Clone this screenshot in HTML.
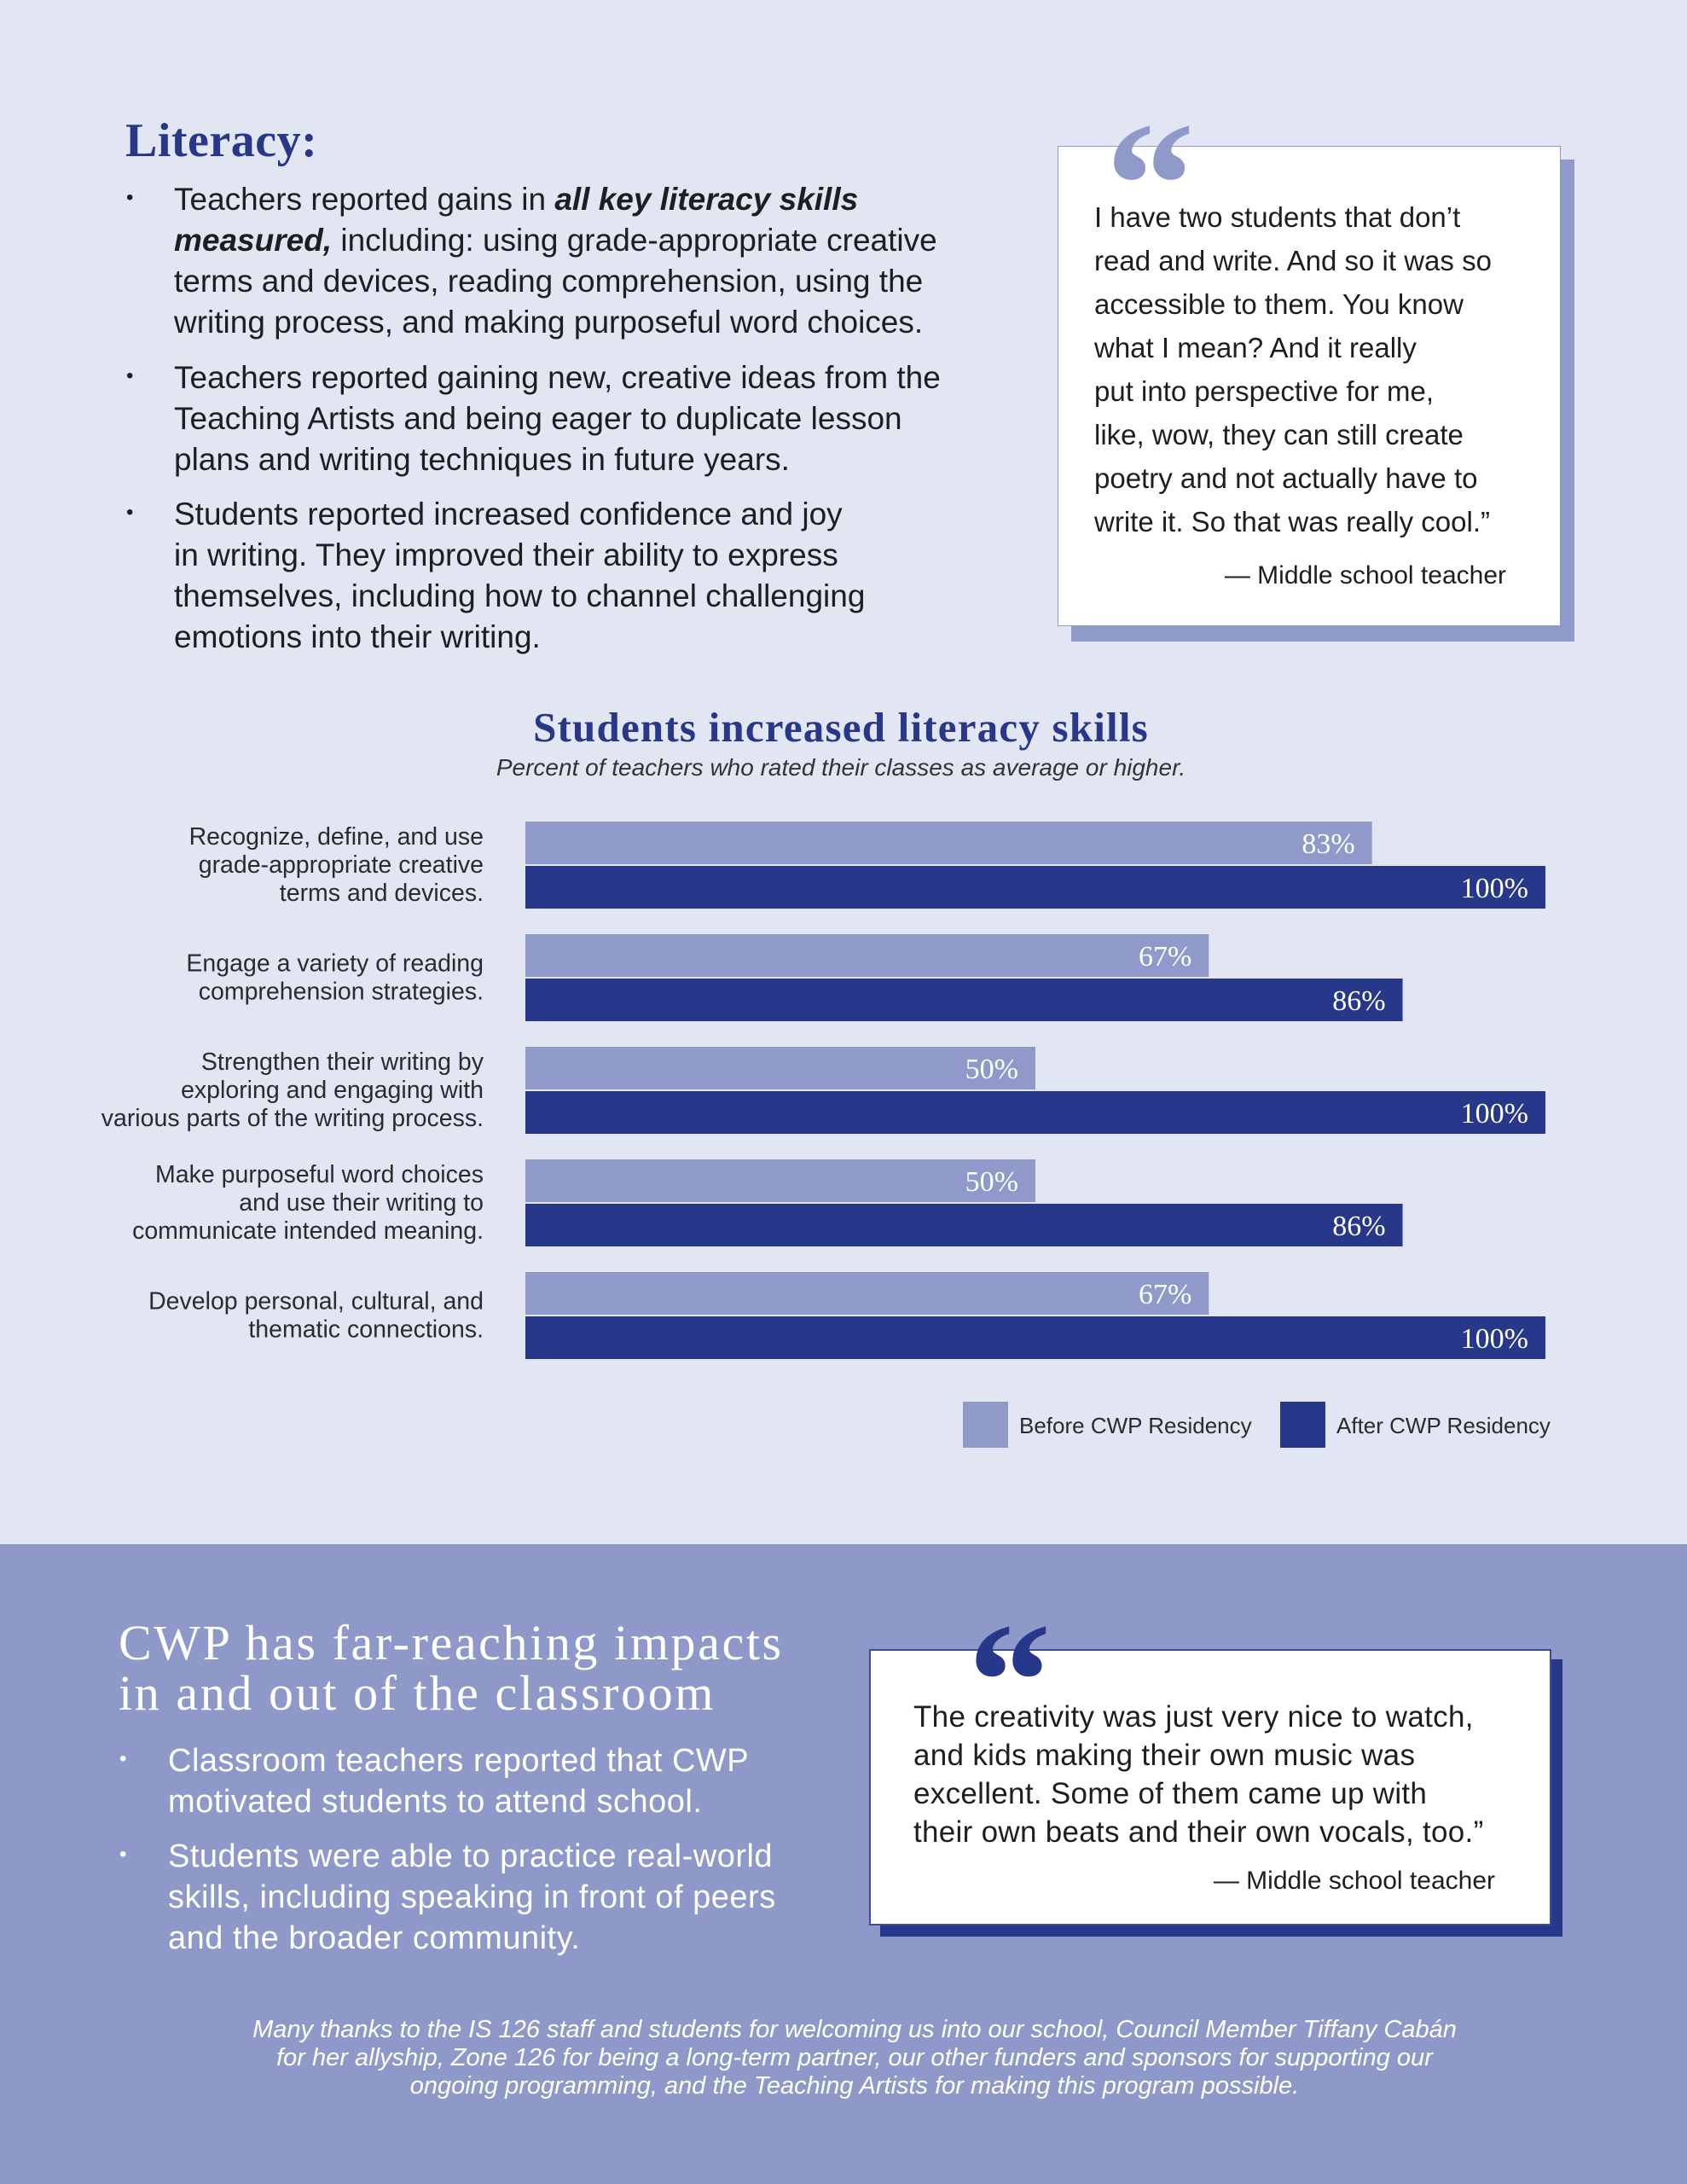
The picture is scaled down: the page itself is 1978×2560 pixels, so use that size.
<!DOCTYPE html>
<html><head><meta charset="utf-8">
<style>
html,body{margin:0;padding:0}
body{width:1978px;height:2560px;position:relative;background:#e2e6f2;font-family:"Liberation Sans",sans-serif;overflow:hidden;color:#1d1d22}
.a{position:absolute;white-space:nowrap}
.serif{font-family:"Liberation Serif",serif;font-weight:bold}
.bt{font-size:37px;line-height:48px;left:204px}
.dot{position:absolute;left:148px;font-size:24px}
</style></head><body>
<div>
<div class="a serif" style="left:147px;top:133px;font-size:56px;letter-spacing:0.5px;color:#27378a">Literacy:</div>
<div>
<span class="dot" style="top:218px">•</span>
<div class="a bt" style="top:210px">Teachers reported gains in <b><i>all key literacy skills</i></b><br><b><i>measured,</i></b> including: using grade-appropriate creative<br>terms and devices, reading comprehension, using the<br>writing process, and making purposeful word choices.</div>
<span class="dot" style="top:427px">•</span>
<div class="a bt" style="top:419px">Teachers reported gaining new, creative ideas from the<br>Teaching Artists and being eager to duplicate lesson<br>plans and writing techniques in future years.</div>
<span class="dot" style="top:587px">•</span>
<div class="a bt" style="top:579px">Students reported increased confidence and joy<br>in writing. They improved their ability to express<br>themselves, including how to channel challenging<br>emotions into their writing.</div>
</div>
<div>
<div class="a" style="left:1256px;top:187px;width:590px;height:565px;background:#8f9aca"></div>
<div class="a" style="left:1240px;top:171px;width:588px;height:561px;background:#fff;border:1px solid #8f9aca"></div>
<div class="a serif" style="left:1296px;top:112px;font-size:210px;line-height:210px;color:#8f9aca">“</div>
<div class="a" style="left:1283px;top:229px;line-height:51px;font-size:33px">I have two students that don’t<br>read and write. And so it was so<br>accessible to them. You know<br>what I mean? And it really<br>put into perspective for me,<br>like, wow, they can still create<br>poetry and not actually have to<br>write it. So that was really cool.”</div>
<div class="a" style="right:212px;top:658px;font-size:30px">— Middle school teacher</div>
</div>
</div>

<div class="a serif" style="left:0;width:1972px;text-align:center;top:824px;font-size:49px;letter-spacing:1.2px;color:#27378a">Students increased literacy skills</div>
<div class="a" style="left:0;width:1972px;text-align:center;top:884px;font-size:28px;font-style:italic;color:#333">Percent of teachers who rated their classes as average or higher.</div>
<svg id="chart" class="a" style="left:0;top:0" width="1978" height="1800"></svg>

<div class="a" style="left:0;top:1810px;width:1978px;height:750px;background:#8e99c9">
<div class="a serif" style="left:139px;top:86px;font-size:58px;line-height:59px;letter-spacing:2.6px;color:#fff;font-weight:normal">CWP has far-reaching impacts<br>in and out of the classroom</div>
<span class="dot" style="left:140px;top:238px;color:#fff">•</span>
<div class="a" style="left:197px;top:230px;font-size:38px;letter-spacing:0.5px;line-height:48px;color:#fff">Classroom teachers reported that CWP<br>motivated students to attend school.</div>
<span class="dot" style="left:140px;top:350px;color:#fff">•</span>
<div class="a" style="left:197px;top:342px;font-size:38px;letter-spacing:0.5px;line-height:48px;color:#fff">Students were able to practice real-world<br>skills, including speaking in front of peers<br>and the broader community.</div>
<div>
<div class="a" style="left:1032px;top:135px;width:800px;height:325px;background:#27378a"></div>
<div class="a" style="left:1019px;top:123px;width:796px;height:320px;background:#fff;border:2px solid #3c4c9c"></div>
<div class="a serif" style="left:1135px;top:64px;font-size:195px;line-height:195px;color:#27378a">“</div>
<div class="a" style="left:1071px;top:180px;font-size:35px;letter-spacing:0.3px;line-height:45px">The creativity was just very nice to watch,<br>and kids making their own music was<br>excellent. Some of them came up with<br>their own beats and their own vocals, too.”</div>
<div class="a" style="right:225px;top:378px;font-size:30px">— Middle school teacher</div>
</div>
<div class="a" style="left:0;width:2004px;text-align:center;top:553px;font-size:29px;line-height:33px;font-style:italic;color:#fff">Many thanks to the IS 126 staff and students for welcoming us into our school, Council Member Tiffany Cabán<br>for her allyship, Zone 126 for being a long-term partner, our other funders and sponsors for supporting our<br>ongoing programming, and the Teaching Artists for making this program possible.</div>
</div>

<script>
const categories=[
["Recognize, define, and use","grade-appropriate creative","terms and devices."],
["Engage a variety of reading","comprehension strategies."],
["Strengthen their writing by","exploring and engaging with","various parts of the writing process."],
["Make purposeful word choices","and use their writing to","communicate intended meaning."],
["Develop personal, cultural, and","thematic connections."]];
const beforeValues=[83,67,50,50,67];
const afterValues=[100,86,100,86,100];
const seriesNames=["Before CWP Residency","After CWP Residency"];
const NS="http://www.w3.org/2000/svg";
const svg=document.getElementById('chart');
const x0=616,xMax=1812;
function xs(v){return x0+(xMax-x0)*v/100;}
function yTop(i){return 963+i*132;}
const barH=50;
function mk(t,attrs){const e=document.createElementNS(NS,t);for(const k in attrs)e.setAttribute(k,attrs[k]);svg.appendChild(e);return e;}
const colors=["#8f9aca","#27378a"];
categories.forEach((lines,i)=>{
  [beforeValues[i],afterValues[i]].forEach((v,s)=>{
    const y=yTop(i)+s*(barH+2);
    const r=mk('rect',{x:x0,y:y,width:xs(v)-x0,height:barH,fill:colors[s]});
    
    
    const t=mk('text',{x:xs(v)-20,y:y+37,'text-anchor':'end',fill:'#fff','font-size':34,'font-family':'Liberation Serif, serif'});
    t.textContent=v+'%';
    
    
  });
  const n=lines.length;
  const cy=yTop(i)+barH+1;
  lines.forEach((ln,j)=>{
    const t=mk('text',{x:567,y:cy-(n-1)*16.5+j*33+9,'text-anchor':'end',fill:'#2a2a30','font-size':28.5,'font-family':'Liberation Sans, sans-serif'});
    t.textContent=ln;
    
    
  });
});
const legX=[1129,1501];
seriesNames.forEach((nm,s)=>{
  const r=mk('rect',{x:legX[s],y:1643,width:53,height:54,fill:colors[s]});
  
  
  const t=mk('text',{x:legX[s]+66,y:1680,fill:'#2a2a30','font-size':26,'font-family':'Liberation Sans, sans-serif'});
  t.textContent=nm;
  
  
});
</script>
</body></html>
